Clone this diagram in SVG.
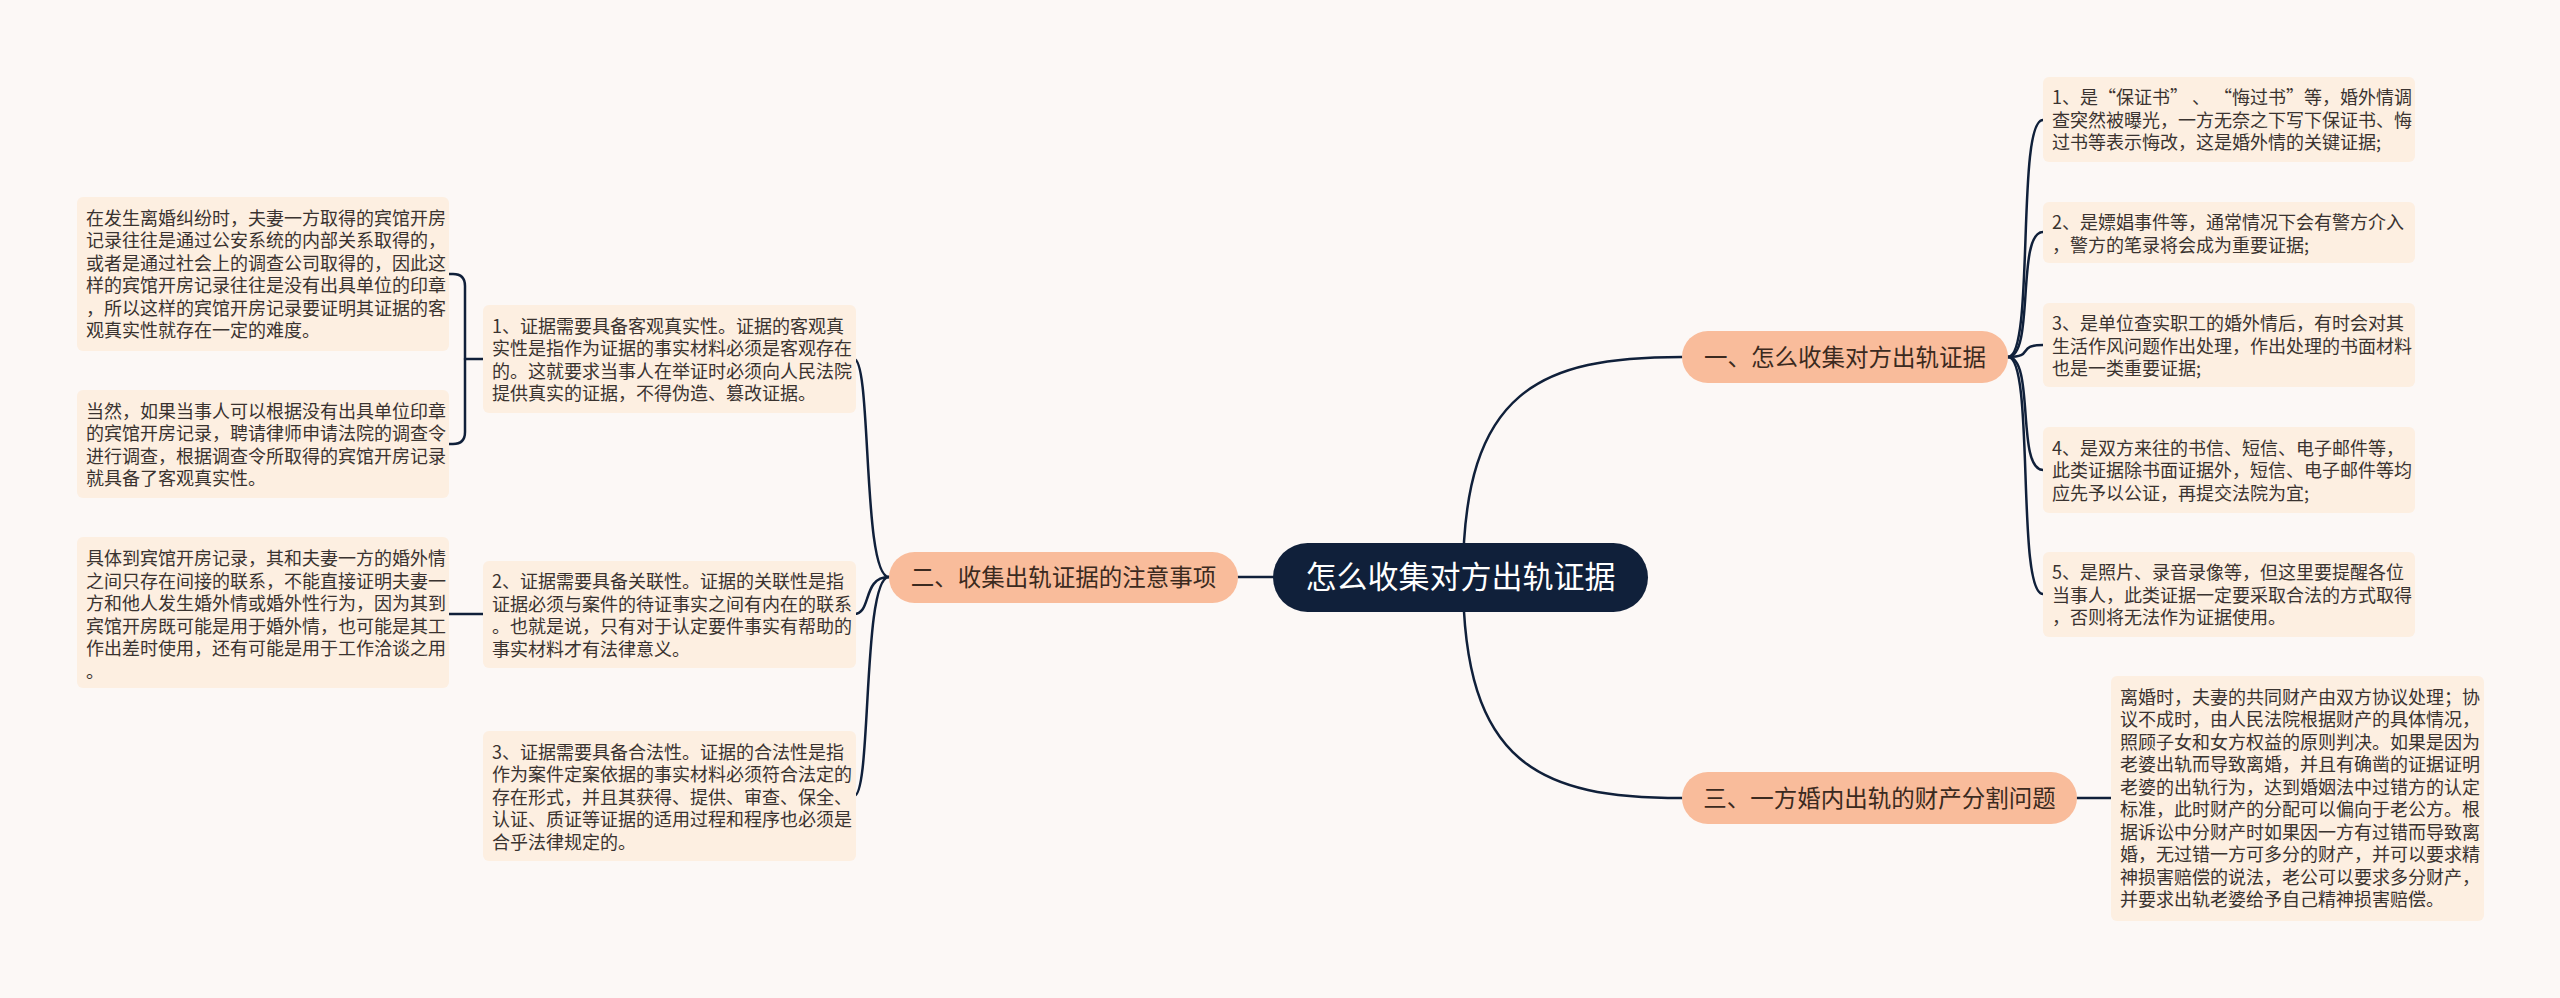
<svg xmlns="http://www.w3.org/2000/svg" width="2560" height="998" viewBox="0 0 2560 998">
<style>
.bg{fill:#fcf8f6}
.leaf{fill:#fdefe1}
.br{fill:#f9bc9b}
.root{fill:#10203a}
.lt{font-family:"Noto Sans CJK SC","Noto Sans",sans-serif;font-size:18px;fill:#3a3330}
.bt{font-family:"Noto Sans CJK SC","Noto Sans",sans-serif;font-size:23.5px;fill:#3b2a20;text-anchor:middle}
.rt{font-family:"Noto Sans CJK SC","Noto Sans",sans-serif;font-size:31px;fill:#ffffff;text-anchor:middle}
.ln{fill:none;stroke:#10203a;stroke-width:2.5;stroke-linecap:round}
</style>
<rect class="bg" x="0" y="0" width="2560" height="998"/>
<g id="connectors">
<path class="ln" d="M1273 577 L1238 577"/>
<path class="ln" d="M1463 577 C1463 390 1540 357 1682 357"/>
<path class="ln" d="M1463 577 C1463 765 1540 798 1682 798"/>
<path class="ln" d="M889 577 C862 577 872 359 854 359"/>
<path class="ln" d="M889 577 C862 577 872 614 854 614"/>
<path class="ln" d="M889 577 C862 577 872 796 854 796"/>
<path class="ln" d="M483 359 L465 359"/>
<path class="ln" d="M449 274 L453 274 Q465 274 465 286 L465 432 Q465 444 453 444 L449 444"/>
<path class="ln" d="M483 614 L449 614"/>
<path class="ln" d="M2008 357 C2035 357 2016 120 2043 120"/>
<path class="ln" d="M2008 357 C2035 357 2016 232 2043 232"/>
<path class="ln" d="M2008 357 C2035 357 2016 345 2043 345"/>
<path class="ln" d="M2008 357 C2035 357 2016 470 2043 470"/>
<path class="ln" d="M2008 357 C2035 357 2016 594 2043 594"/>
<path class="ln" d="M2077 798 L2111 798"/>
</g>
<g id="root">
<rect class="root" x="1273" y="543" width="375" height="69" rx="34.5"/>
<text class="rt" x="1460.5" y="588">怎么收集对方出轨证据</text>
</g>
<g id="branch1">
<rect class="br" x="1682" y="331" width="326" height="52" rx="26"/>
<text class="bt" x="1845" y="365.5">一、怎么收集对方出轨证据</text>
</g>
<g id="branch2">
<rect class="br" x="889" y="552" width="349" height="51" rx="25.5"/>
<text class="bt" x="1063.5" y="586">二、收集出轨证据的注意事项</text>
</g>
<g id="branch3">
<rect class="br" x="1682" y="772" width="395" height="52" rx="26"/>
<text class="bt" x="1879.5" y="806.5">三、一方婚内出轨的财产分割问题</text>
</g>
<g id="leafA">
<rect class="leaf" x="77" y="197" width="372" height="154" rx="6"/>
<text class="lt" x="86"><tspan x="86" y="224.5">在发生离婚纠纷时，夫妻一方取得的宾馆开房</tspan><tspan x="86" y="247">记录往往是通过公安系统的内部关系取得的，</tspan><tspan x="86" y="269.5">或者是通过社会上的调查公司取得的，因此这</tspan><tspan x="86" y="292">样的宾馆开房记录往往是没有出具单位的印章</tspan><tspan x="86" y="314.5">，所以这样的宾馆开房记录要证明其证据的客</tspan><tspan x="86" y="337">观真实性就存在一定的难度。</tspan></text>
</g>
<g id="leafB">
<rect class="leaf" x="77" y="390" width="372" height="108" rx="6"/>
<text class="lt" x="86"><tspan x="86" y="417.5">当然，如果当事人可以根据没有出具单位印章</tspan><tspan x="86" y="440">的宾馆开房记录，聘请律师申请法院的调查令</tspan><tspan x="86" y="462.5">进行调查，根据调查令所取得的宾馆开房记录</tspan><tspan x="86" y="485">就具备了客观真实性。</tspan></text>
</g>
<g id="leaf1">
<rect class="leaf" x="483" y="305" width="373" height="108" rx="6"/>
<text class="lt" x="492"><tspan x="492" y="332.5">1、证据需要具备客观真实性。证据的客观真</tspan><tspan x="492" y="355">实性是指作为证据的事实材料必须是客观存在</tspan><tspan x="492" y="377.5">的。这就要求当事人在举证时必须向人民法院</tspan><tspan x="492" y="400">提供真实的证据，不得伪造、篡改证据。</tspan></text>
</g>
<g id="leafC">
<rect class="leaf" x="77" y="537" width="372" height="151" rx="6"/>
<text class="lt" x="86"><tspan x="86" y="565">具体到宾馆开房记录，其和夫妻一方的婚外情</tspan><tspan x="86" y="587.5">之间只存在间接的联系，不能直接证明夫妻一</tspan><tspan x="86" y="610">方和他人发生婚外情或婚外性行为，因为其到</tspan><tspan x="86" y="632.5">宾馆开房既可能是用于婚外情，也可能是其工</tspan><tspan x="86" y="655">作出差时使用，还有可能是用于工作洽谈之用</tspan><tspan x="86" y="677.5">。</tspan></text>
</g>
<g id="leaf2">
<rect class="leaf" x="483" y="561" width="373" height="107" rx="6"/>
<text class="lt" x="492"><tspan x="492" y="588">2、证据需要具备关联性。证据的关联性是指</tspan><tspan x="492" y="610.5">证据必须与案件的待证事实之间有内在的联系</tspan><tspan x="492" y="633">。也就是说，只有对于认定要件事实有帮助的</tspan><tspan x="492" y="655.5">事实材料才有法律意义。</tspan></text>
</g>
<g id="leaf3">
<rect class="leaf" x="483" y="731" width="373" height="130" rx="6"/>
<text class="lt" x="492"><tspan x="492" y="758.5">3、证据需要具备合法性。证据的合法性是指</tspan><tspan x="492" y="781">作为案件定案依据的事实材料必须符合法定的</tspan><tspan x="492" y="803.5">存在形式，并且其获得、提供、审查、保全、</tspan><tspan x="492" y="826">认证、质证等证据的适用过程和程序也必须是</tspan><tspan x="492" y="848.5">合乎法律规定的。</tspan></text>
</g>
<g id="right1">
<rect class="leaf" x="2043" y="77" width="372" height="85" rx="6"/>
<text class="lt" x="2052"><tspan x="2052" y="104">1、是“保证书” 、 “悔过书”等，婚外情调</tspan><tspan x="2052" y="126.5">查突然被曝光，一方无奈之下写下保证书、悔</tspan><tspan x="2052" y="149">过书等表示悔改，这是婚外情的关键证据;</tspan></text>
</g>
<g id="right2">
<rect class="leaf" x="2043" y="202" width="372" height="61" rx="6"/>
<text class="lt" x="2052"><tspan x="2052" y="229">2、是嫖娼事件等，通常情况下会有警方介入</tspan><tspan x="2052" y="251.5">，警方的笔录将会成为重要证据;</tspan></text>
</g>
<g id="right3">
<rect class="leaf" x="2043" y="303" width="372" height="84" rx="6"/>
<text class="lt" x="2052"><tspan x="2052" y="330">3、是单位查实职工的婚外情后，有时会对其</tspan><tspan x="2052" y="352.5">生活作风问题作出处理，作出处理的书面材料</tspan><tspan x="2052" y="375">也是一类重要证据;</tspan></text>
</g>
<g id="right4">
<rect class="leaf" x="2043" y="427" width="372" height="86" rx="6"/>
<text class="lt" x="2052"><tspan x="2052" y="454.5">4、是双方来往的书信、短信、电子邮件等，</tspan><tspan x="2052" y="477">此类证据除书面证据外，短信、电子邮件等均</tspan><tspan x="2052" y="499.5">应先予以公证，再提交法院为宜;</tspan></text>
</g>
<g id="right5">
<rect class="leaf" x="2043" y="552" width="372" height="85" rx="6"/>
<text class="lt" x="2052"><tspan x="2052" y="579">5、是照片、录音录像等，但这里要提醒各位</tspan><tspan x="2052" y="601.5">当事人，此类证据一定要采取合法的方式取得</tspan><tspan x="2052" y="624">，否则将无法作为证据使用。</tspan></text>
</g>
<g id="right6">
<rect class="leaf" x="2111" y="676" width="373" height="245" rx="6"/>
<text class="lt" x="2120"><tspan x="2120" y="703.5">离婚时，夫妻的共同财产由双方协议处理；协</tspan><tspan x="2120" y="726">议不成时，由人民法院根据财产的具体情况，</tspan><tspan x="2120" y="748.5">照顾子女和女方权益的原则判决。如果是因为</tspan><tspan x="2120" y="771">老婆出轨而导致离婚，并且有确凿的证据证明</tspan><tspan x="2120" y="793.5">老婆的出轨行为，达到婚姻法中过错方的认定</tspan><tspan x="2120" y="816">标准，此时财产的分配可以偏向于老公方。根</tspan><tspan x="2120" y="838.5">据诉讼中分财产时如果因一方有过错而导致离</tspan><tspan x="2120" y="861">婚，无过错一方可多分的财产，并可以要求精</tspan><tspan x="2120" y="883.5">神损害赔偿的说法，老公可以要求多分财产，</tspan><tspan x="2120" y="906">并要求出轨老婆给予自己精神损害赔偿。</tspan></text>
</g>
</svg>
